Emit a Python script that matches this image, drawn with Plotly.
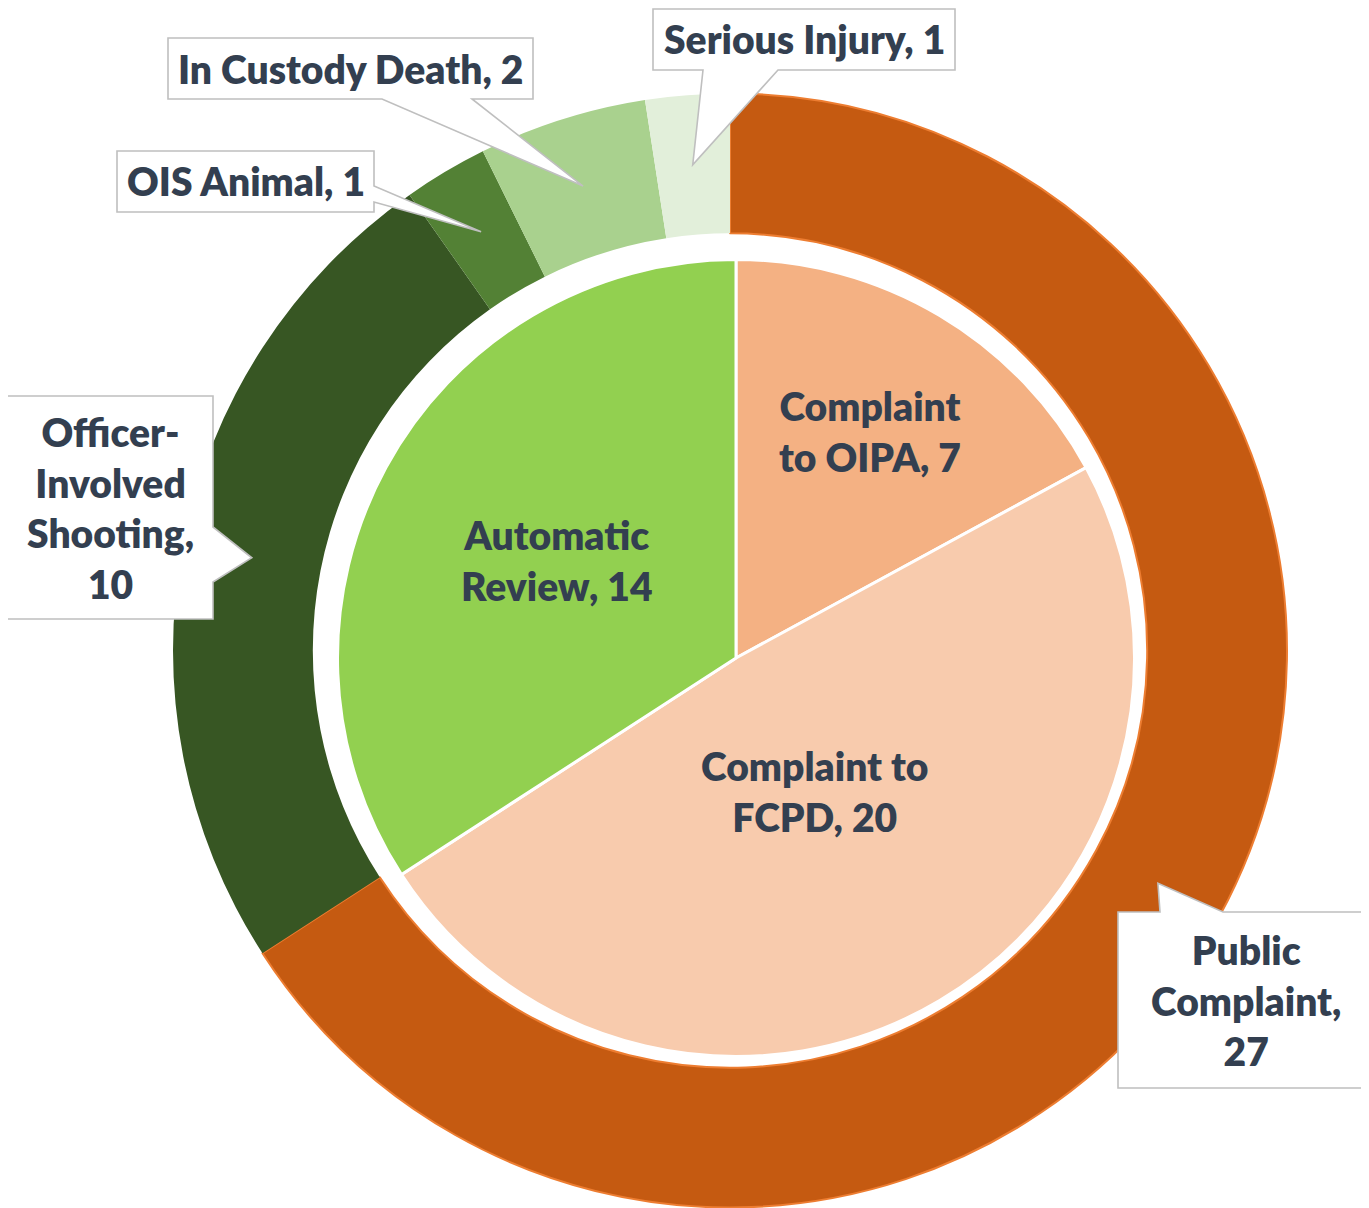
import math
import plotly.graph_objects as go

# ---------------- data ----------------
outer_labels = ["Public Complaint", "Officer-Involved Shooting", "OIS Animal",
                "In Custody Death", "Serious Injury"]
outer_values = [27, 10, 1, 2, 1]
outer_colors = ["#C55A11", "#375623", "#538135", "#A9D18E", "#E2EFDA"]

inner_labels = ["Complaint to OIPA", "Complaint to FCPD", "Automatic Review"]
inner_values = [7, 20, 14]
inner_colors = ["#F4B183", "#F8CBAD", "#92D050"]

outer_text = ["Public<br>Complaint,<br>27", "Officer-<br>Involved<br>Shooting,<br>10",
              "OIS Animal, 1", "In Custody Death, 2", "Serious Injury, 1"]
inner_text = ["Complaint<br>to OIPA, 7", "Complaint to<br>FCPD, 20", "Automatic<br>Review, 14"]

# ---------------- layout geometry (page pixels) ----------------
PAGE_OFF = 8                     # default body margin of the html page
W, H = 1369 - PAGE_OFF, 1208 - PAGE_OFF
OC = (730, 650.5)   # outer ring centre
OR = 557            # outer radius
HOLE = 0.749
IC = (736, 658)     # inner pie centre
IR = 398.5

TEXT_COLOR = "#333F50"
FONT = dict(family="Lato, 'Open Sans', sans-serif", size=39, color=TEXT_COLOR, weight=800)

# callout boxes: (x0, y0, x1, y1), tail side, tail base positions along side
callouts = [
    ((1118, 912, 1420, 1088), "top", (1160, 1223)),
    ((7, 396, 213, 619), "right", (527, 582)),
    ((117, 151, 374, 212), "right", (186, 202)),
    ((168, 38, 533, 99), "bottom", (382, 472)),
    ((653, 9, 955, 70), "bottom", (703, 778)),
]
text_centers = [(1246, 1000), None, None, None, None]
inner_radius_frac = [0.66, 0.39, 0.51]


def px(x, y):
    return (x - PAGE_OFF) / W, 1 - (y - PAGE_OFF) / H


def mid_angles(values):
    tot = sum(values)
    out, cum = [], 0
    for v in values:
        out.append((cum + v / 2) / tot * 2 * math.pi)
        cum += v
    return out


def polar(center, r, ang):
    return center[0] + r * math.sin(ang), center[1] - r * math.cos(ang)


def domain(center, r):
    (xa, ya), (xb, yb) = px(center[0] - r, center[1] + r), px(center[0] + r, center[1] - r)
    return dict(x=[xa, xb], y=[ya, yb])


fig = go.Figure()

fig.add_trace(go.Pie(
    labels=outer_labels, values=outer_values, sort=False, direction="clockwise",
    rotation=0, hole=HOLE, textinfo="none", hoverinfo="skip",
    marker=dict(colors=outer_colors,
                line=dict(color=["#ED7D31", "rgba(0,0,0,0)", "rgba(0,0,0,0)",
                                 "rgba(0,0,0,0)", "rgba(0,0,0,0)"],
                          width=[2, 0, 0, 0, 0])),
    domain=domain(OC, OR),
    showlegend=False,
))

fig.add_trace(go.Pie(
    labels=inner_labels, values=inner_values, sort=False, direction="clockwise",
    rotation=0, textinfo="none", hoverinfo="skip",
    marker=dict(colors=inner_colors, line=dict(color="white", width=3)),
    domain=domain(IC, IR),
    showlegend=False,
))

shapes, annotations = [], []

# outer callouts
ring_mid = OR * (1 + HOLE) / 2
for ang, txt, (box, side, base), tc in zip(mid_angles(outer_values), outer_text,
                                           callouts, text_centers):
    tx, ty = polar(OC, ring_mid, ang)
    x0, y0, x1, y1 = box
    b1, b2 = base
    if side == "top":
        pts = [(x0, y0), (b1, y0), (tx, ty), (b2, y0), (x1, y0), (x1, y1), (x0, y1)]
    elif side == "right":
        pts = [(x0, y0), (x1, y0), (x1, b1), (tx, ty), (x1, b2), (x1, y1), (x0, y1)]
    else:  # bottom
        pts = [(x0, y0), (x1, y0), (x1, y1), (b2, y1), (tx, ty), (b1, y1), (x0, y1)]
    path = "M " + " L ".join("%.5f,%.5f" % px(*p) for p in pts) + " Z"
    shapes.append(dict(type="path", xref="paper", yref="paper", path=path,
                       fillcolor="white", line=dict(color="#BFBFBF", width=1.6),
                       layer="above"))
    if tc is None:
        tc = ((x0 + x1) / 2, (y0 + y1) / 2)
    cx, cy = px(*tc)
    annotations.append(dict(x=cx, y=cy, xref="paper", yref="paper", text=txt,
                            showarrow=False, font=FONT, xanchor="center",
                            yanchor="middle", align="center"))

# inner labels
for ang, txt, f in zip(mid_angles(inner_values), inner_text, inner_radius_frac):
    lx, ly = polar(IC, IR * f, ang)
    cx, cy = px(lx, ly)
    annotations.append(dict(x=cx, y=cy, xref="paper", yref="paper", text=txt,
                            showarrow=False, font=FONT, xanchor="center",
                            yanchor="middle", align="center"))

fig.update_layout(
    width=W, height=H, margin=dict(l=0, r=0, t=0, b=0),
    paper_bgcolor="white", plot_bgcolor="white",
    shapes=shapes, annotations=annotations,
)

fig.write_html("out.html")
